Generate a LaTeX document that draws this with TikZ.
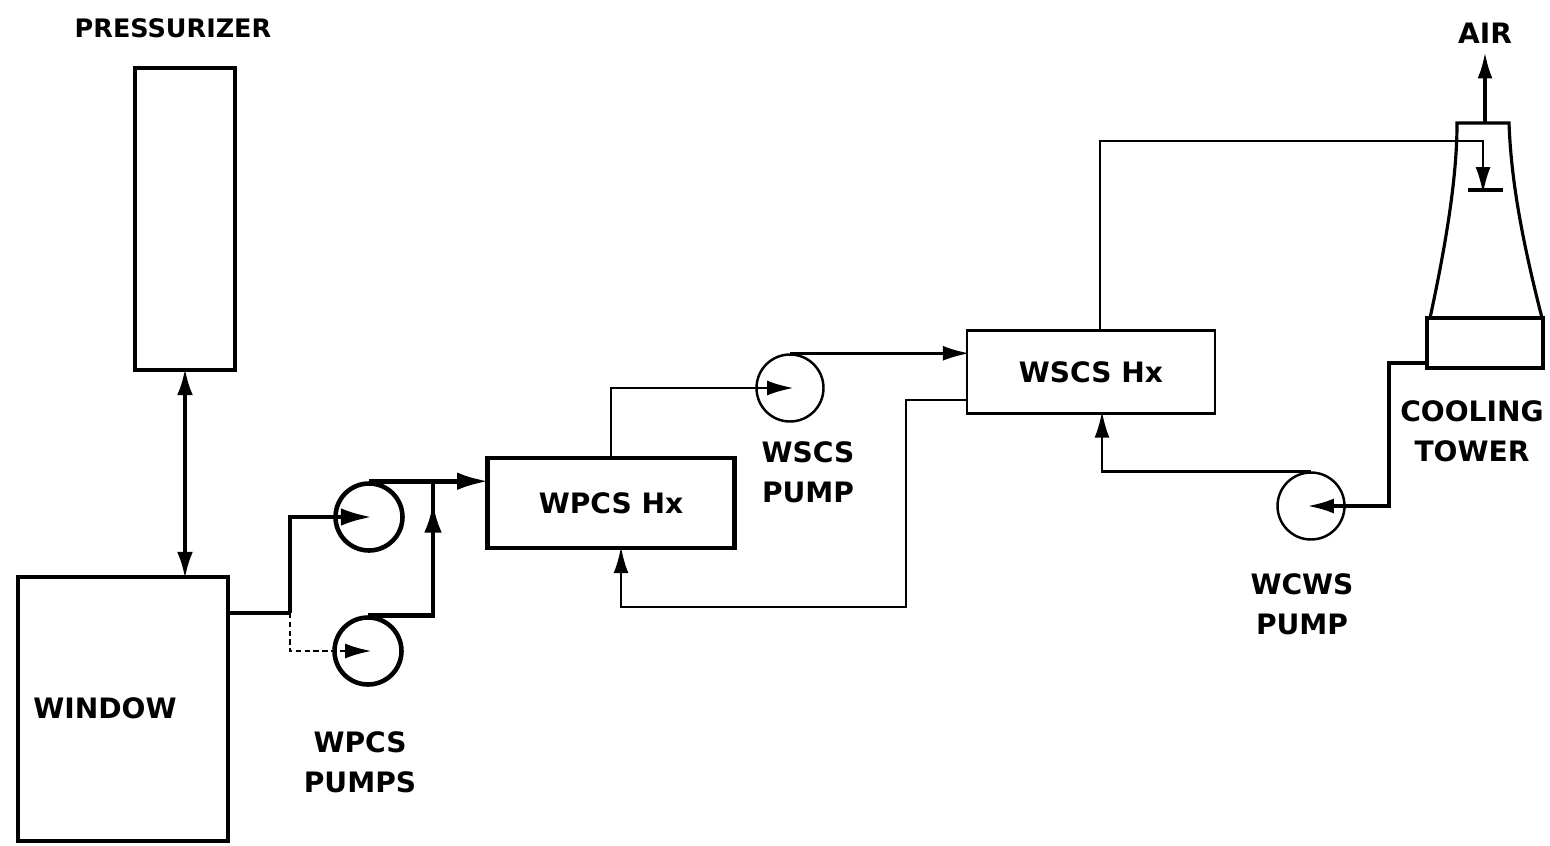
\documentclass[tikz,border=0pt]{standalone}
\usepackage{fontspec}
\setmainfont{DejaVu Sans}
\usepackage{tikz}
\usetikzlibrary{arrows.meta,decorations.markings,calc}
\newcommand{\lblfont}{\bfseries\fontsize{16}{23}\selectfont}
\tikzset{->-/.style={decoration={markings, mark=at position #1 with {\arrow{Latex[length=17pt,width=10pt]}}},postaction={decorate}}}
\tikzset{->-/.default=.5}
\tikzset{vessel/.style={draw, line width=2.6pt, inner sep=0pt}}
\tikzset{hx/.style={draw, line width=1.5pt, inner sep=0pt, font=\lblfont}}
\tikzset{pump/.style={circle, draw, inner sep=0pt, minimum size=1.34cm}}
\tikzset{pipe/.style={line width=1.4pt}}
\tikzset{fatpipe/.style={line width=2.6pt}}
\tikzset{flow/.style={-{Latex[length=15pt,width=8.5pt]}, shorten >=-2pt}}
\tikzset{fatflow/.style={-{Latex[length=18pt,width=10pt]}, shorten >=-2pt}}
\tikzset{txt/.style={font=\lblfont, align=center, inner sep=0pt}}

\begin{document}
\begin{tikzpicture}[x=0.02cm,y=-0.02cm]
\useasboundingbox (0,0) rectangle (1550,845);
%vessels
\node (pres) at (185,219)[vessel, minimum width=2cm, minimum height=6.04cm]{};
\node (win) at (123,709)[vessel, minimum width=4.2cm, minimum height=5.28cm]{};
\node (prestxt) at (173,28)[txt, font=\bfseries\fontsize{14.5}{20}\selectfont]{PRESSURIZER};
\node (wintxt) at (105,708)[txt]{WINDOW};
%primary loop
\node (wpcsA) at (369,517)[pump, line width=2.6pt]{};
\node (wpcsB) at (368,651)[pump, line width=2.6pt]{};
\node (wpcshx) at (611,503)[hx, line width=2.6pt, minimum width=4.94cm, minimum height=1.8cm]{WPCS Hx};
\node (wpcstxt) at (360,762)[txt]{WPCS\\PUMPS};
%secondary loop
\node (wscsp) at (790,388)[pump, pipe]{};
\node (wscshx) at (1091,372)[hx, minimum width=4.96cm, minimum height=1.66cm]{WSCS Hx};
\node (wscstxt) at (808,472)[txt]{WSCS\\PUMP};
%cooling water
\node (wcwsp) at (1311,506)[pump, pipe]{};
\node (wcwstxt) at (1302,604)[txt]{WCWS\\PUMP};
\node (tbase) at (1485,343)[draw, line width=1.8pt, minimum width=2.32cm, minimum height=1cm]{};
\node (towtxt) at (1472,431)[txt]{COOLING\\TOWER};
\node (air) at (1485,33)[txt]{AIR};
\coordinate (twtop) at (1485,123);
\coordinate (spray) at (1483,190);
\draw[line width=1.8pt] (1430,318) .. controls (1449,230) and (1457,170) .. (1457,123) -- (1509,123) .. controls (1511,180) and (1522,240) .. (1542,318);

%connections
\draw[line width=2pt, {Latex[length=15pt,width=9pt]}-{Latex[length=15pt,width=9pt]}, shorten <=-2pt, shorten >=-2pt] (pres.south) -- (pres.south |- win.north);
\coordinate (split) at (290,613);
\draw[fatpipe] (win.east |- split) -- (split);
\draw[fatpipe, fatflow] (split) |- (wpcsA.center);
\draw[pipe, densely dashed, flow] (split) |- (wpcsB.center);
\draw[fatpipe, fatflow] (wpcsA.north) -- (wpcshx.west |- wpcsA.north);
\coordinate (join) at (433,483);
\draw[fatpipe, ->-=.9] (wpcsB.north) -| (join);
\draw[pipe, flow] (wpcshx.north) |- (wscsp.center);
\draw[pipe, flow] (wscsp.north) -- (wscshx.west |- wscsp.north);
\coordinate (retA) at (906,400);
\coordinate (retB) at (906,607);
\draw[pipe, flow] (wscshx.west |- retA) -- (retA) -- (retB) -| ($(wpcshx.south)+(10,0)$);
\draw[pipe, flow] ($(wscshx.north)+(9,0)$) |- (spray |- 0,141) -- (spray);
\draw[line width=1.8pt] ($(spray)+(-15,0)$) -- ($(spray)+(20,0)$);
\draw[line width=2pt, flow] (twtop) -- ($(air.south)+(0,12)$);
\coordinate (cw) at (1389,363);
\draw[line width=1.8pt, flow] (tbase.west |- cw) -- (cw) |- (wcwsp.center);
\draw[pipe, flow] (wcwsp.north) -| ($(wscshx.south)+(11,0)$);
\end{tikzpicture}
\end{document}
